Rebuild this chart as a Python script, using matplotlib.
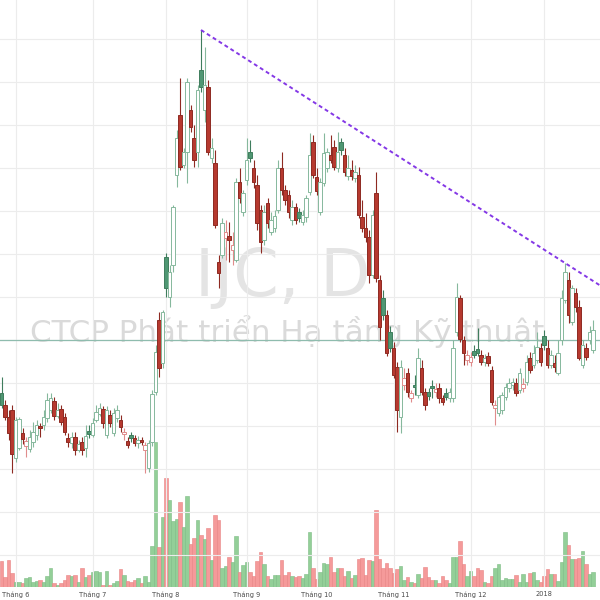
import matplotlib.pyplot as plt
import numpy as np
import pandas as pd

# phiên giao dịch 26/05/2017 - 22/01/2018 (nghỉ lễ 04/09 và 01/01)
dates = pd.bdate_range('2017-05-26', '2018-01-22')
dates = dates[~dates.isin(pd.to_datetime(['2017-09-04', '2018-01-01']))]

open_ = [
    10.07, 9.95, 9.83, 9.90, 9.42, 9.52, 9.67, 9.54, 9.51, 9.58, 9.65, 9.74, 9.75, 9.82, 9.90, 9.99, 9.84, 9.91, 9.83, 9.62, 9.57, 9.63, 9.50, 9.58, 9.52, 9.69,
    9.65, 9.80, 9.86, 9.91, 9.65, 9.85, 9.67, 9.82, 9.80, 9.66, 9.59, 9.65, 9.62, 9.57, 9.60, 9.50, 9.32, 9.58, 10.08, 10.80, 10.37,
    11.43, 11.03, 11.35, 12.25, 12.85, 12.35, 12.48, 12.90, 12.62, 12.48, 13.30, 12.90, 13.13, 12.42, 12.37, 11.38, 11.45, 11.62, 11.64, 11.50, 11.40, 12.18, 11.88,
    12.20, 12.48, 12.32, 12.15, 11.90, 11.60, 11.97, 11.68, 11.72, 11.90, 12.32, 12.10, 12.05, 11.80, 11.93, 11.88, 11.78, 11.83, 12.08, 12.58,
    12.23, 11.88, 12.17, 12.32, 12.45, 12.53, 12.32, 12.58, 12.45, 12.24, 12.30, 12.22, 12.25, 11.83, 11.72, 11.63, 11.25, 12.07, 11.20, 11.02, 10.85, 10.68,
    10.52, 10.33, 9.83, 10.15, 10.27, 10.02, 10.15, 10.05, 10.32, 10.08, 10.08, 10.14, 10.08, 10.12, 10.02, 10.07, 10.02, 10.02, 10.68, 11.02, 10.60, 10.40,
    10.38, 10.49, 10.51, 10.45, 10.38, 10.44, 10.30, 9.92, 9.87, 9.90, 10.03, 10.12, 10.15, 10.17, 10.10, 10.12, 10.18, 10.42, 10.35, 10.40, 10.52,
    10.64, 10.52, 10.35, 10.37, 10.27, 10.60, 11.00, 11.20, 10.78, 11.07, 10.93, 10.35, 10.52, 10.60, 10.50,
]
high = [
    10.23, 10.00, 9.90, 9.95, 9.83, 9.83, 9.72, 9.63, 9.70, 9.78, 9.80, 9.77, 9.90, 10.07, 10.07, 10.03, 9.97, 9.95, 9.87, 9.67, 9.68, 9.68, 9.60, 9.63, 9.75, 9.75,
    9.82, 9.95, 9.97, 9.94, 9.94, 9.90, 9.92, 9.95, 9.85, 9.72, 9.63, 9.68, 9.65, 9.64, 9.63, 9.58, 9.60, 10.10, 10.55, 10.88, 10.90,
    11.47, 11.35, 11.95, 12.70, 13.22, 12.52, 13.22, 12.95, 12.75, 13.15, 13.70, 13.53, 13.20, 12.62, 12.50, 11.45, 11.82, 11.80, 11.78, 11.68, 12.22, 12.32, 12.10,
    12.62, 12.60, 12.40, 12.25, 11.95, 11.95, 12.02, 11.88, 11.90, 12.40, 12.48, 12.15, 12.10, 12.00, 11.97, 11.92, 11.90, 12.05, 12.67, 12.65,
    12.32, 12.22, 12.67, 12.52, 12.65, 12.60, 12.68, 12.62, 12.52, 12.45, 12.40, 12.35, 12.33, 12.00, 11.87, 11.70, 11.90, 12.28, 11.25, 11.10, 10.90, 10.74,
    10.58, 10.38, 10.40, 10.32, 10.32, 10.10, 10.25, 10.52, 10.40, 10.12, 10.12, 10.20, 10.17, 10.17, 10.05, 10.12, 10.12, 10.60, 11.17, 11.05, 10.64, 10.50,
    10.48, 10.55, 10.72, 10.50, 10.46, 10.48, 10.34, 10.00, 10.05, 10.08, 10.17, 10.22, 10.22, 10.22, 10.32, 10.22, 10.45, 10.48, 10.55, 10.68, 10.57,
    10.70, 10.60, 10.50, 10.45, 10.60, 11.10, 11.37, 11.28, 11.15, 11.12, 11.00, 10.60, 10.57, 10.74, 10.80,
]
low = [
    9.92, 9.80, 9.60, 9.27, 9.38, 9.50, 9.56, 9.43, 9.48, 9.53, 9.60, 9.63, 9.70, 9.78, 9.87, 9.80, 9.82, 9.75, 9.65, 9.53, 9.52, 9.45, 9.48, 9.45, 9.43, 9.62,
    9.63, 9.78, 9.84, 9.72, 9.62, 9.73, 9.64, 9.78, 9.68, 9.60, 9.52, 9.58, 9.54, 9.52, 9.55, 9.27, 9.28, 9.54, 10.05, 10.23, 10.32,
    11.03, 10.93, 11.28, 12.13, 12.30, 12.32, 12.17, 12.68, 12.33, 12.33, 13.08, 12.78, 12.45, 12.37, 11.72, 11.12, 11.42, 11.40, 11.38, 11.35, 11.38, 11.97, 11.84,
    12.15, 12.38, 12.12, 11.70, 11.47, 11.55, 11.72, 11.65, 11.68, 11.87, 12.05, 11.95, 11.82, 11.75, 11.76, 11.78, 11.75, 11.78, 12.05, 12.22,
    12.05, 11.85, 12.14, 12.28, 12.37, 12.30, 12.28, 12.45, 12.24, 12.20, 12.20, 12.18, 11.82, 11.68, 11.58, 11.17, 11.22, 11.18, 10.60, 10.80, 10.44, 10.48,
    10.22, 9.68, 9.67, 10.10, 10.03, 9.98, 10.05, 10.02, 10.05, 9.90, 10.00, 10.02, 10.03, 9.97, 9.95, 10.00, 9.98, 9.98, 10.64, 10.58, 10.35, 10.35,
    10.34, 10.42, 10.44, 10.35, 10.34, 10.34, 9.95, 9.75, 9.84, 9.86, 10.00, 10.08, 10.10, 10.04, 10.07, 10.08, 10.15, 10.27, 10.32, 10.37, 10.34,
    10.50, 10.32, 10.32, 10.28, 10.25, 10.55, 10.97, 10.77, 10.75, 10.88, 10.40, 10.32, 10.40, 10.56, 10.47,
]
close = [
    9.95, 9.83, 9.67, 9.46, 9.80, 9.81, 9.61, 9.59, 9.63, 9.68, 9.75, 9.72, 9.83, 10.00, 10.02, 9.84, 9.90, 9.78, 9.68, 9.58, 9.63, 9.50, 9.56, 9.50, 9.64, 9.66,
    9.77, 9.88, 9.92, 9.77, 9.90, 9.77, 9.87, 9.90, 9.73, 9.68, 9.55, 9.62, 9.57, 9.60, 9.58, 9.55, 9.57, 10.06, 10.48, 10.32, 10.88,
    11.12, 11.28, 11.93, 12.62, 12.33, 12.48, 13.18, 12.73, 12.40, 13.10, 13.13, 13.15, 12.48, 12.52, 11.75, 11.27, 11.77, 11.68, 11.60, 11.55, 12.18, 12.02, 12.07,
    12.40, 12.42, 12.18, 11.77, 11.58, 11.88, 11.77, 11.80, 11.84, 12.32, 12.10, 12.00, 11.88, 11.93, 11.80, 11.82, 11.85, 12.02, 12.45, 12.25,
    12.09, 12.18, 12.47, 12.48, 12.40, 12.33, 12.48, 12.50, 12.28, 12.32, 12.24, 12.28, 11.85, 11.72, 11.63, 11.25, 11.85, 11.22, 10.73, 10.85, 10.47, 10.52,
    10.25, 9.90, 10.33, 10.22, 10.08, 10.07, 10.13, 10.42, 10.08, 9.95, 10.04, 10.12, 10.11, 10.02, 9.98, 10.03, 10.08, 10.52, 11.03, 10.61, 10.47, 10.45,
    10.43, 10.45, 10.47, 10.38, 10.42, 10.37, 9.98, 9.95, 10.03, 10.05, 10.13, 10.17, 10.18, 10.07, 10.27, 10.16, 10.38, 10.30, 10.47, 10.53, 10.38,
    10.55, 10.35, 10.45, 10.33, 10.47, 11.02, 11.28, 10.85, 11.12, 10.93, 10.42, 10.55, 10.43, 10.68, 10.70,
]
# khối lượng (nghìn cp)
volume = [
    260, 100, 270, 140, 50, 50, 40, 90, 100, 50, 60, 70, 50, 110, 190, 40, 20, 40, 70, 120, 110, 120, 50, 190, 100, 120,
    150, 160, 150, 20, 160, 20, 40, 60, 180, 120, 60, 50, 70, 90, 40, 110, 50, 410, 1450, 400, 700,
    1090, 870, 660, 680, 850, 600, 910, 430, 490, 670, 520, 480, 590, 270, 720, 670, 190, 210, 300, 250, 510, 150, 220,
    250, 150, 110, 260, 350, 230, 110, 80, 120, 120, 270, 120, 150, 110, 100, 110, 90, 130, 550, 190,
    80, 150, 240, 230, 300, 150, 190, 190, 110, 160, 90, 120, 280, 290, 120, 270, 260, 770, 280, 190, 240, 190,
    140, 180, 210, 70, 100, 50, 40, 130, 90, 200, 100, 70, 70, 40, 110, 70, 40, 300, 300, 460, 230, 110,
    160, 110, 190, 170, 50, 40, 110, 190, 230, 70, 90, 80, 80, 120, 50, 130, 50, 140, 150, 70, 50,
    110, 180, 130, 130, 60, 250, 550, 420, 280, 280, 290, 360, 230, 130, 150,
]

price_line = 10.60
trend_dates = ['2017-08-15', '2018-01-10']
trend_prices = [13.70, 11.37]

o = np.array(open_)
h = np.array(high)
l = np.array(low)
c = np.array(close)
v = np.array(volume)
x = np.arange(len(dates))

prev = np.r_[-np.inf, c[:-1]]
up = c >= prev          # màu theo giá đóng cửa phiên trước
hollow = c > o          # nến rỗng khi đóng cửa > mở cửa

edge = np.where(up, np.where(hollow, '#86b89d', '#3f7d5d'),
                np.where(hollow, '#e08c8c', '#8e2a22'))
face = np.where(hollow, 'white', np.where(up, '#4f9773', '#b6392f'))

fig = plt.figure(figsize=(6, 6), dpi=100)
rect = [0, 13 / 600, 1, 587 / 600]
axv = fig.add_axes(rect)
ax = fig.add_axes(rect, sharex=axv)
ax.patch.set_visible(False)

# volume
vol_up = c >= o
axv.bar(x, v, width=0.92, color=np.where(vol_up, '#93cf98', '#f59a9a'),
        edgecolor=np.where(vol_up, '#7dbb84', '#e88383'), linewidth=0.4, zorder=2)
axv.set_ylim(0, 5870)

# watermark
axv.text(283 / 600, 1 - 296 / 600, 'IJC, D', transform=fig.transFigure,
         ha='center', va='baseline', fontsize=47, color='#e4e4e4', zorder=1)
axv.text(287 / 600, 1 - 342 / 600, 'CTCP Phát triển Hạ tầng Kỹ thuật', transform=fig.transFigure,
         ha='center', va='baseline', fontsize=22.3, color='#dadada', zorder=1)

# candles
ax.vlines(x, l, h, colors=edge, linewidth=0.8, zorder=2)
body = np.maximum(np.abs(c - o), 0.02)
ax.bar(x, body, bottom=np.minimum(o, c), width=0.9, color=face, edgecolor=edge,
       linewidth=0.7, zorder=3)

ax.axhline(price_line, color='#8fbcae', linewidth=0.9, zorder=1)

# trend line
tx = [dates.get_loc(pd.Timestamp(d)) for d in trend_dates]
slope = (trend_prices[1] - trend_prices[0]) / (tx[1] - tx[0])
x_end = 171.0
ax.plot([tx[0], x_end], [trend_prices[0], trend_prices[0] + slope * (x_end - tx[0])],
        color='#8438e6', linewidth=1.4, linestyle=(0, (2, 1.6)), zorder=5)

# axes
month_pos = [i for i in range(len(dates)) if i > 0 and dates[i].month != dates[i - 1].month]
month_lab = ['2018' if dates[i].month == 1 else 'Tháng %d' % dates[i].month for i in month_pos]
ax.set_xticks(month_pos)
ax.set_xticklabels(month_lab)
ax.set_yticks(np.arange(8.45, 14.0, 0.43))
ax.grid(True, color='#ececec', linewidth=0.8, zorder=0)
ax.set_axisbelow(True)
ax.set_xlim(-0.43, 171.0)
ax.set_ylim(8.13, 14.0)
ax.tick_params(axis='x', length=0, pad=3, labelsize=4.8, labelcolor='#4a4a4a')
ax.tick_params(axis='y', length=0, labelleft=False)
axv.tick_params(length=0, labelleft=False, labelbottom=False)
axv.set_yticks([])
for a in (ax, axv):
    for s in a.spines.values():
        s.set_visible(False)

fig.savefig('out.png', dpi=100)
